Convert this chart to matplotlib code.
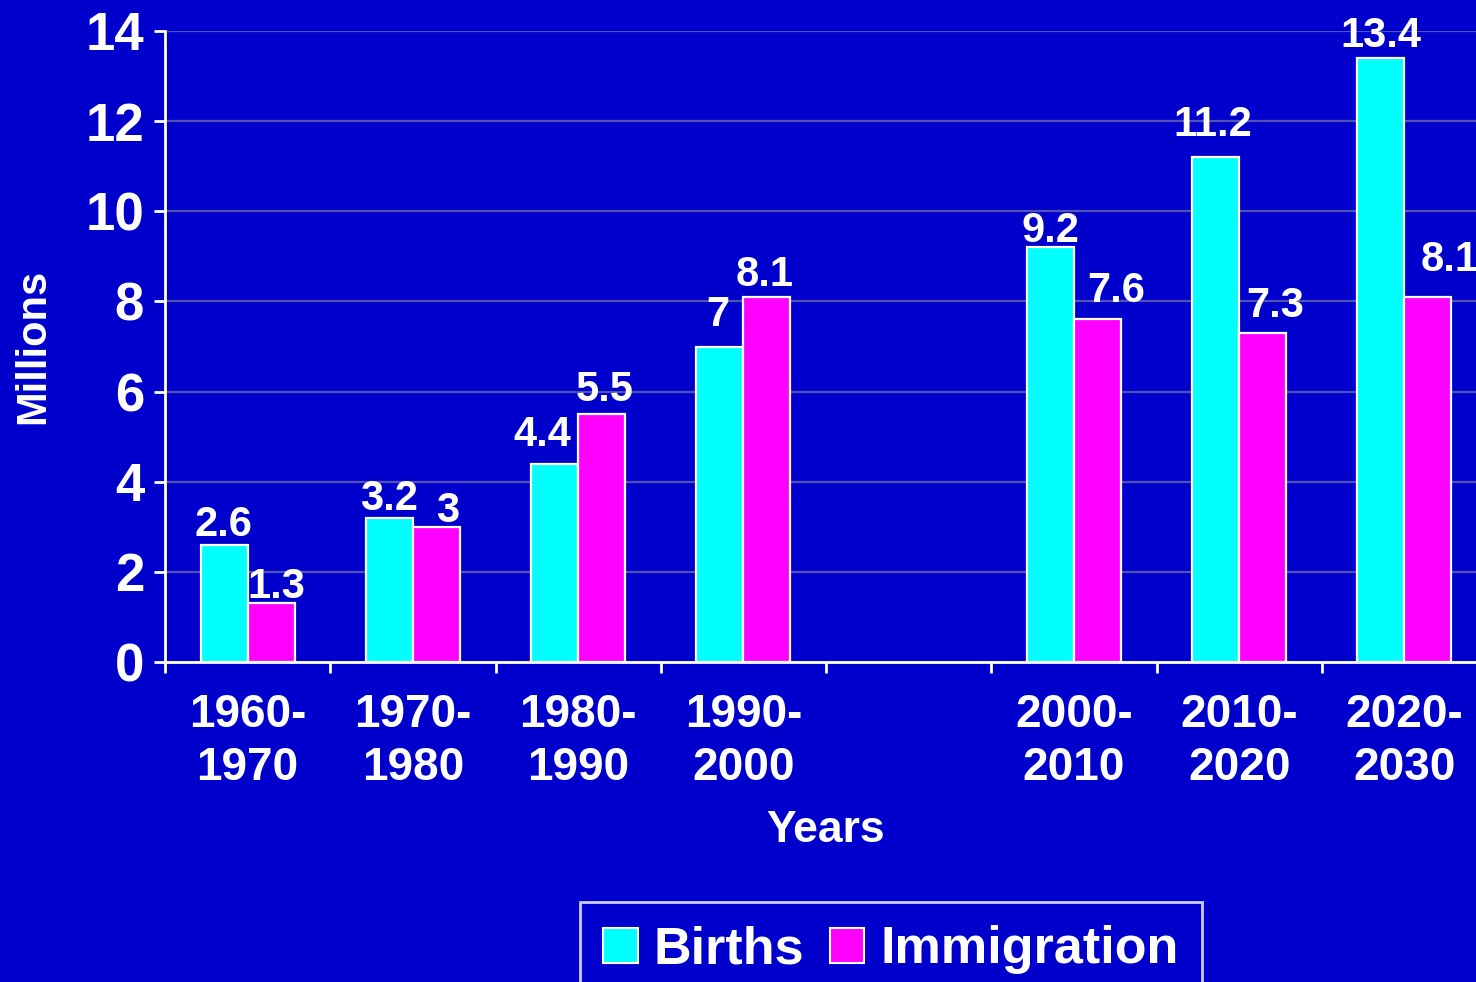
import numpy as np
import matplotlib
matplotlib.use("Agg")
import matplotlib.pyplot as plt
from matplotlib.patches import Patch

# data (empty slot between 1990-2000 and 2000-2010)
periods = ['1960-\n1970', '1970-\n1980', '1980-\n1990', '1990-\n2000', '',
           '2000-\n2010', '2010-\n2020', '2020-\n2030']
births = [2.6, 3.2, 4.4, 7, np.nan, 9.2, 11.2, 13.4]
immigration = [1.3, 3, 5.5, 8.1, np.nan, 7.6, 7.3, 8.1]
births_lbl = ['2.6', '3.2', '4.4', '7', '', '9.2', '11.2', '13.4']
immig_lbl = ['1.3', '3', '5.5', '8.1', '', '7.6', '7.3', '8.1']

# hand-placed label nudges in the original (pixels: dx, gap above bar)
births_dx = [-1, 0, -12, -2, 0, 0, -3, 0]
births_gap = [8, 7, 17, 19, 0, 4, 20, 10]
immig_dx = [5, 11, 3, -2, 0, 19, 13, 22]
immig_gap = [4, 4, 12, 10, 0, 16, 15, 25]

bg = '#0000CC'
cyan = '#00FFFF'
magenta = '#FF00FF'
grid_col = '#5252B4'

plt.rcParams['font.family'] = ['Liberation Sans', 'DejaVu Sans']
plt.rcParams['font.weight'] = 'bold'

fig = plt.figure(figsize=(14.76, 9.82), dpi=100, facecolor=bg)
ax = fig.add_axes([165 / 1476, 1 - 662 / 982, 1322 / 1476, 631 / 982])
ax.set_facecolor(bg)

x = np.arange(len(periods))
w = 0.284
ax.bar(x - w / 2, births, w, color=cyan, edgecolor='white', linewidth=1.6, zorder=3)
ax.bar(x + w / 2, immigration, w, color=magenta, edgecolor='white', linewidth=1.6, zorder=3)


def add_labels(xs, vals, labels, dxs, gaps):
    for xi, v, lab, dx, g in zip(xs, vals, labels, dxs, gaps):
        if np.isnan(v):
            continue
        ax.annotate(lab, (xi, v), xytext=(dx, g - 8), textcoords='offset pixels',
                    ha='center', va='bottom', color='white', fontsize=30,
                    fontweight='bold', annotation_clip=False)


add_labels(x - w / 2, births, births_lbl, births_dx, births_gap)
add_labels(x + w / 2, immigration, immig_lbl, immig_dx, immig_gap)

ax.set_xlim(-0.5, len(periods) - 0.5)
ax.set_ylim(0, 14)
ax.set_yticks(np.arange(0, 15, 2))
ax.yaxis.grid(True, color=grid_col, linewidth=1.6, zorder=0)
ax.set_axisbelow(True)

# boundary ticks (major) and centred labels (minor)
ax.set_xticks(np.arange(-0.5, len(periods), 1))
ax.set_xticklabels([])
ax.set_xticks(x, minor=True)
ax.set_xticklabels(periods, minor=True, fontsize=33, fontweight='bold',
                   color='white', linespacing=1.27)
ax.tick_params(axis='x', which='major', length=8, width=2, color='white', direction='out')
ax.tick_params(axis='x', which='minor', length=0, pad=22)
ax.tick_params(axis='y', length=8, width=2, color='white', labelcolor='white',
               labelsize=38, pad=7)
for t in ax.get_yticklabels():
    t.set_fontweight('bold')

for s in ['top', 'right']:
    ax.spines[s].set_visible(False)
for s in ['left', 'bottom']:
    ax.spines[s].set_color('white')
    ax.spines[s].set_linewidth(2)

ax.set_ylabel('Millions', fontsize=30, fontweight='bold', color='white')
ax.yaxis.set_label_coords(-112 / 1322, 0.5)
fig.text(826 / 1476, 1 - 831 / 982, 'Years', fontsize=32, fontweight='bold',
         color='white', ha='center', va='center')

handles = [Patch(facecolor=cyan, edgecolor='white', linewidth=1.5, label='Births'),
           Patch(facecolor=magenta, edgecolor='white', linewidth=1.5, label='Immigration')]
leg = fig.legend(handles=handles, loc='upper left', bbox_to_anchor=(580 / 1476, 1 - 902 / 982),
                 ncol=2, fontsize=37.5, frameon=True, fancybox=False, facecolor=bg,
                 edgecolor='white', handlelength=0.66, handleheight=0.66,
                 handletextpad=0.3, columnspacing=0.5, borderpad=0.45, borderaxespad=0)
leg.get_frame().set_linewidth(2)
for t in leg.get_texts():
    t.set_color('white')
    t.set_fontweight('bold')

fig.savefig('out.png', dpi=100, facecolor=bg)
